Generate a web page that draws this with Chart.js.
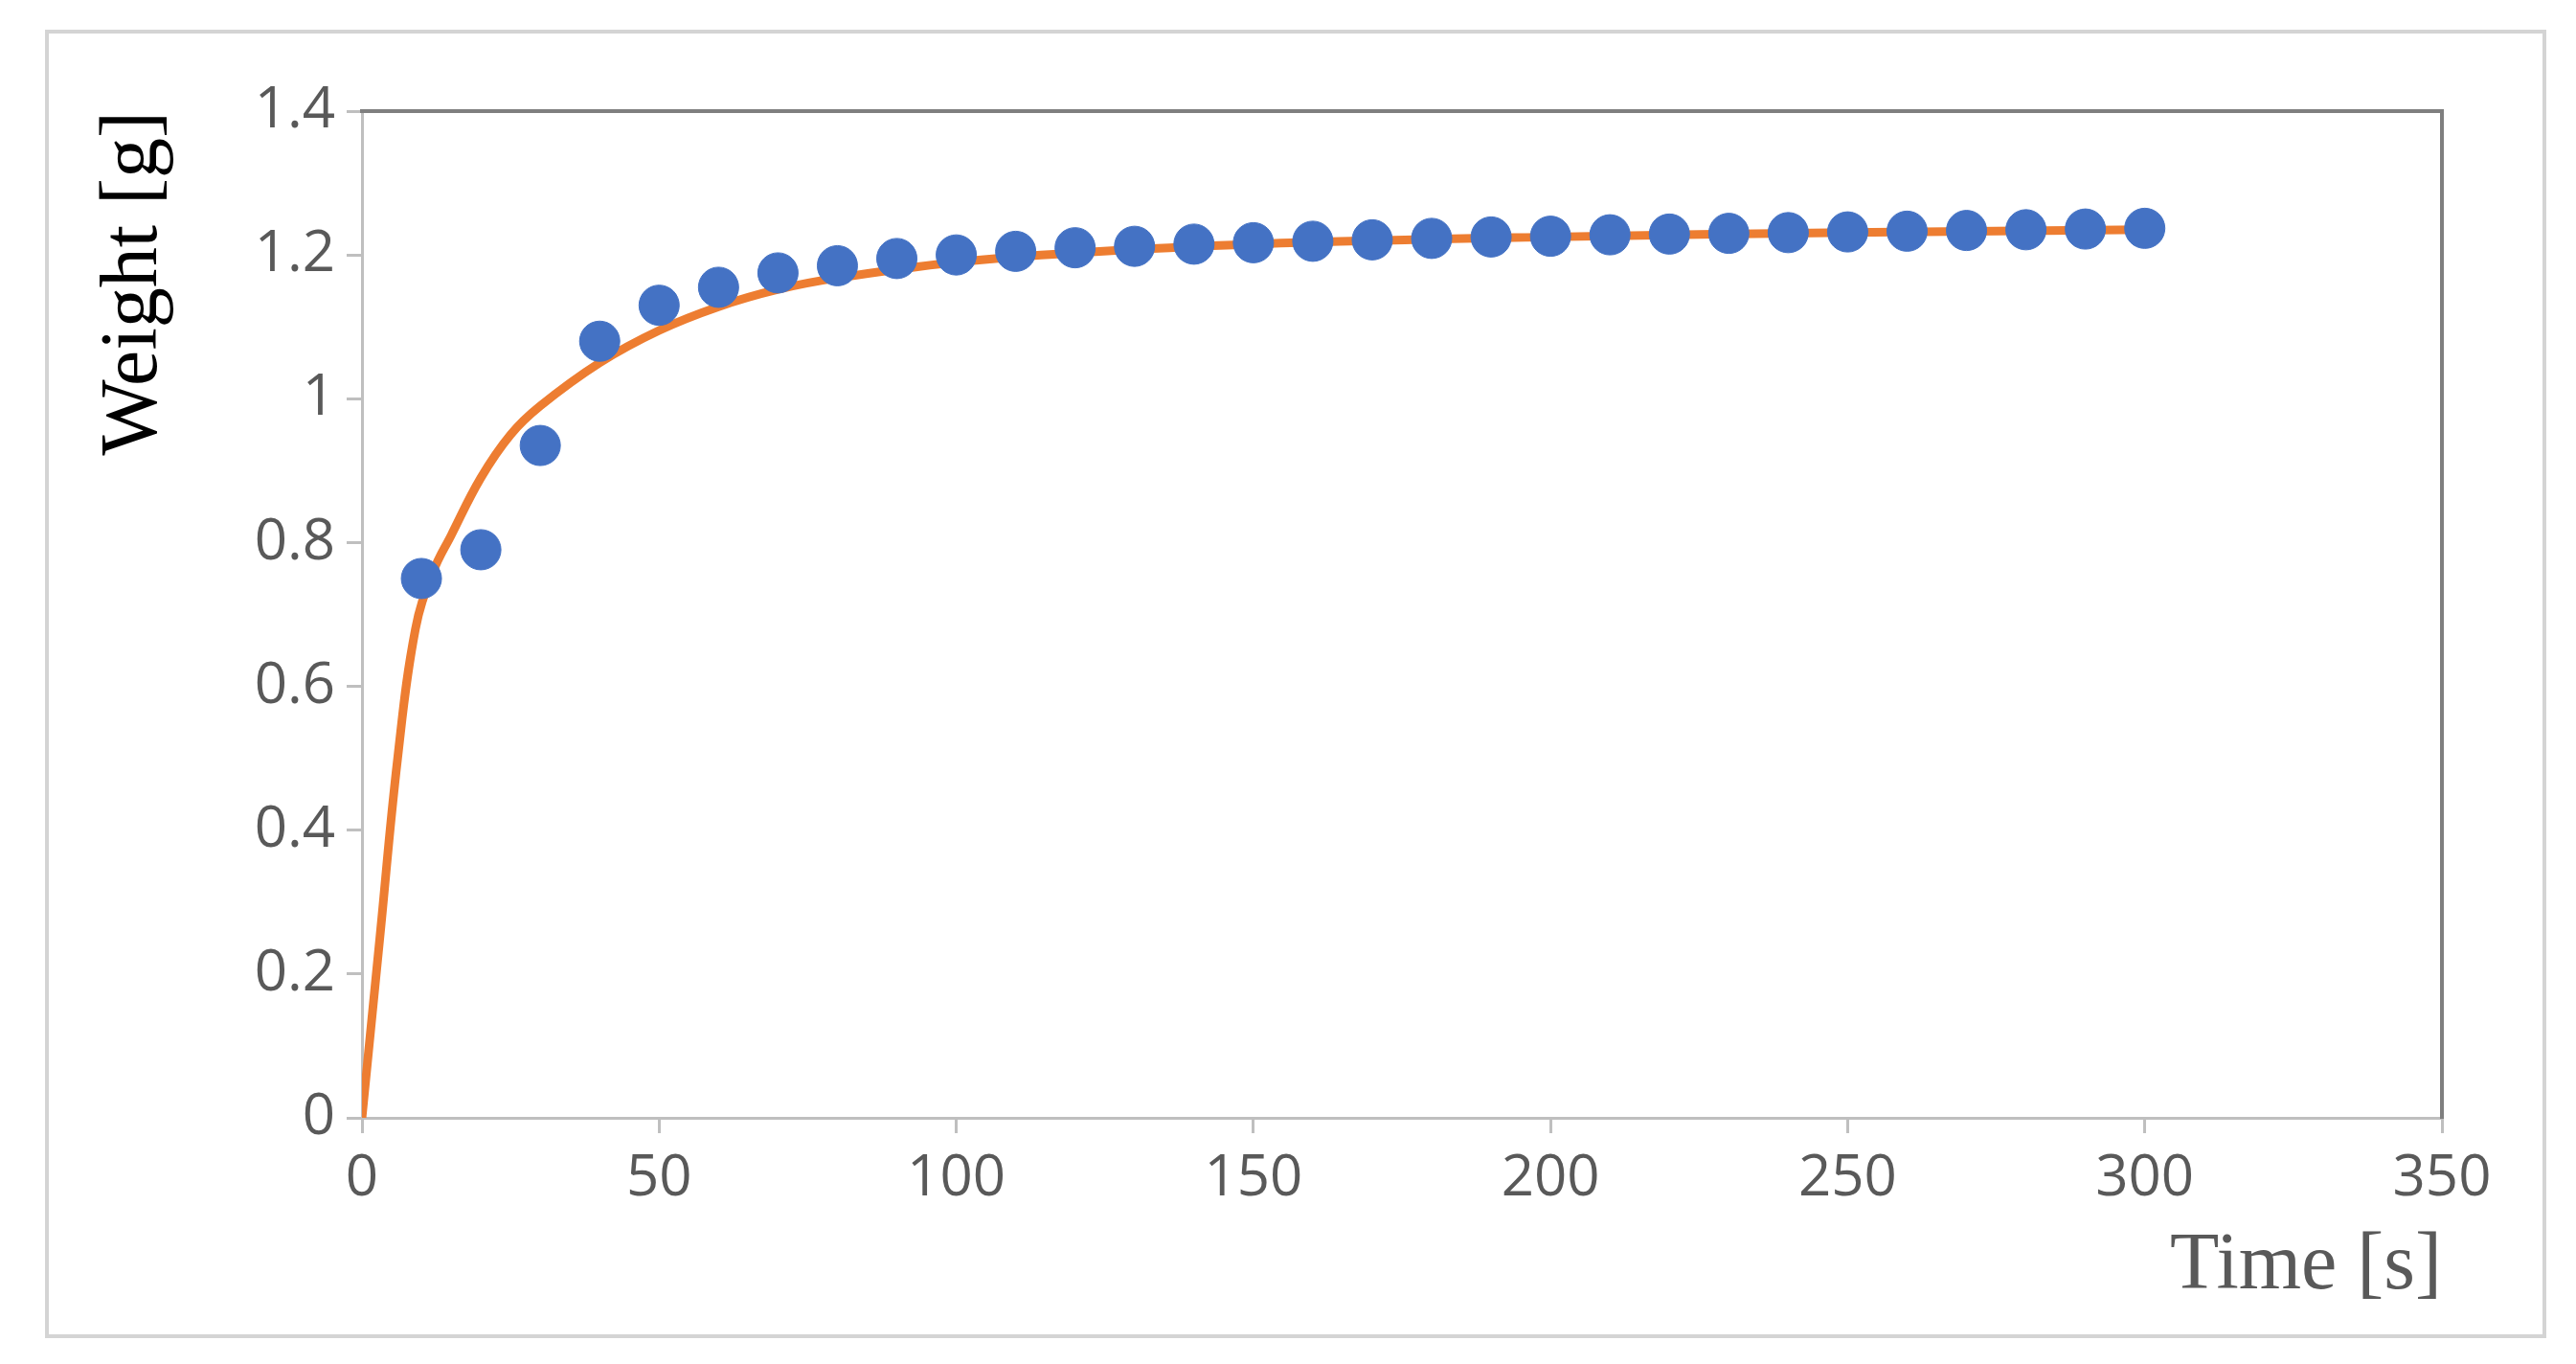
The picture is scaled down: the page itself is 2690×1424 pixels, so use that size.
<!DOCTYPE html>
<html><head><meta charset="utf-8">
<script src="https://cdn.jsdelivr.net/npm/chart.js@4/dist/chart.umd.min.js"></script>
<style>
html,body{margin:0;background:#fff;}
#box{position:absolute;left:47px;top:31px;width:2604px;height:1358px;border:4px solid #d4d4d4;}
#wrap{position:absolute;left:0;top:0;width:2604px;height:1358px;}
</style></head><body>
<div id="box"><div id="wrap"><canvas id="c"></canvas></div></div>
<script>
// measured points
const timeS = [10,20,30,40,50,60,70,80,90,100,110,120,130,140,150,160,170,180,190,200,210,220,230,240,250,260,270,280,290,300];
const weightG = [0.75,0.79,0.935,1.08,1.13,1.155,1.175,1.185,1.195,1.2,1.205,1.21,1.212,1.215,1.217,1.219,1.221,1.223,1.225,1.226,1.228,1.229,1.23,1.231,1.232,1.233,1.234,1.235,1.236,1.237];
// fitted curve
const fitT = [0,3,6,9,12,15,20,25,30,40,50,60,70,80,100,120,150,200,250,300];
const fitW = [0,0.25,0.5,0.68,0.76,0.81,0.89,0.95,0.99,1.05,1.095,1.128,1.152,1.168,1.19,1.203,1.215,1.225,1.231,1.235];

const orange = "#ed7d31", blue = "#4472c4", tickGray = "#595959";
const tickFont = {family: "Open Sans", size: 60};
const titleFont = {family: "Liberation Serif", size: 84};

new Chart(document.getElementById('c'), {
  type: 'scatter',
  data: {
    datasets: [
      {
        label: 'fit',
        type: 'line',
        data: fitT.map((t, i) => ({x: t, y: fitW[i]})),
        borderColor: orange,
        borderWidth: 9,
        pointRadius: 0,
        tension: 0.4,
        order: 2
      },
      {
        label: 'Weight',
        data: timeS.map((t, i) => ({x: t, y: weightG[i]})),
        backgroundColor: blue,
        borderColor: blue,
        pointRadius: 21,
        order: 1
      }
    ]
  },
  options: {
    responsive: true,
    maintainAspectRatio: false,
    animation: false,
    layout: {padding: 0},
    plugins: {legend: {display: false}, tooltip: {enabled: false}},
    scales: {
      x: {
        type: 'linear', min: 0, max: 350,
        afterFit: s => { s.height = 226; },
        ticks: {stepSize: 50, color: tickGray, font: tickFont, padding: 12},
        grid: {drawOnChartArea: false, tickLength: 16, color: '#bfbfbf', lineWidth: 3},
        border: {color: '#bfbfbf', width: 3},
        title: {display: true, text: 'Time [s]', align: 'end', color: tickGray, font: titleFont, padding: {top: -10, bottom: 20}}
      },
      y: {
        min: 0, max: 1.4,
        afterFit: s => { s.width = 327; },
        ticks: {stepSize: 0.2, color: tickGray, font: tickFont, padding: 12, callback: v => +v.toFixed(1)},
        grid: {drawOnChartArea: false, tickLength: 16, color: '#bfbfbf', lineWidth: 3},
        border: {color: '#bfbfbf', width: 3},
        title: {display: true, text: 'Weight [g]', align: 'end', color: '#000', font: titleFont, padding: {top: 40}}
      },
      x2: {
        type: 'linear', position: 'top', min: 0, max: 350,
        afterFit: s => { s.height = 81; },
        ticks: {display: false}, grid: {display: false},
        border: {color: '#7f7f7f', width: 4}
      },
      y2: {
        position: 'right', min: 0, max: 1.4,
        afterFit: s => { s.width = 105; },
        ticks: {display: false}, grid: {display: false},
        border: {color: '#7f7f7f', width: 4}
      }
    }
  }
});
</script>
</body></html>
